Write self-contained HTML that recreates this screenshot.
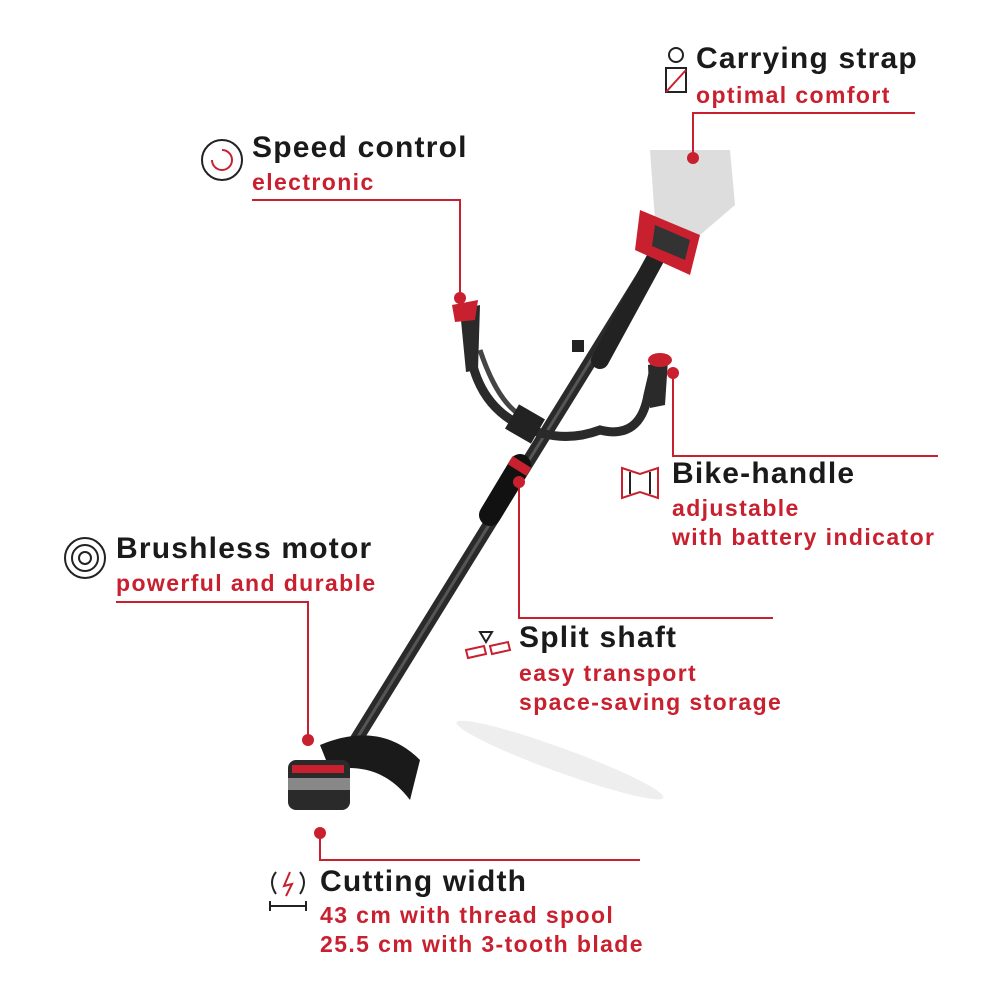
<!DOCTYPE html>
<html><head><meta charset="utf-8"><style>
html,body{margin:0;padding:0;background:#fff;}
#c{position:relative;width:1000px;height:1000px;overflow:hidden;font-family:"Liberation Sans",sans-serif;}
.t{position:absolute;font-weight:bold;color:#1a1a1a;font-size:30px;letter-spacing:1.2px;line-height:34px;white-space:nowrap;}
.s{position:absolute;font-weight:bold;color:#c8202f;font-size:23px;letter-spacing:1.4px;line-height:29px;white-space:nowrap;}
svg{position:absolute;left:0;top:0;}
</style></head><body><div id="c">
<svg width="1000" height="1000" viewBox="0 0 1000 1000">
  <ellipse cx="560" cy="760" rx="110" ry="12" fill="#eee" transform="rotate(20 560 760)"/>
  <line x1="690" y1="200" x2="325" y2="790" stroke="#2a2a2a" stroke-width="13" stroke-linecap="round"/>
  <line x1="690" y1="200" x2="325" y2="790" stroke="#555" stroke-width="3"/>
  <line x1="520" y1="465" x2="490" y2="515" stroke="#111" stroke-width="22" stroke-linecap="round"/>
  <line x1="522" y1="462" x2="517" y2="470" stroke="#c8202f" stroke-width="22"/>
  <line x1="660" y1="250" x2="600" y2="360" stroke="#222" stroke-width="18" stroke-linecap="round"/>
  <path d="M650 150 L730 150 L735 205 L700 235 L655 220 Z" fill="#ddd"/>
  <path d="M640 210 L700 235 L690 275 L635 250 Z" fill="#c8202f"/>
  <path d="M655 225 L690 240 L685 260 L652 246 Z" fill="#333"/>
  <path d="M468 330 Q470 400 520 425 Q560 445 600 430 Q640 440 648 395 L655 365" fill="none" stroke="#2a2a2a" stroke-width="9" stroke-linecap="round"/>
  <path d="M480 350 Q500 410 530 420" fill="none" stroke="#444" stroke-width="5"/>
  <path d="M460 310 L480 305 L478 370 L466 372 Z" fill="#2a2a2a"/>
  <path d="M452 305 L478 300 L475 320 L455 322 Z" fill="#c8202f"/>
  <path d="M648 365 L668 360 L665 405 L650 408 Z" fill="#2a2a2a"/>
  <ellipse cx="660" cy="360" rx="12" ry="7" fill="#c8202f"/>
  <rect x="510" y="410" width="30" height="28" fill="#222" transform="rotate(30 525 424)"/>
  <rect x="572" y="340" width="12" height="12" fill="#222"/>
  <path d="M320 745 Q380 720 420 760 L410 800 Q380 760 330 770 Z" fill="#1a1a1a"/>
  <rect x="288" y="760" width="62" height="50" rx="8" fill="#2a2a2a"/>
  <rect x="288" y="778" width="62" height="12" fill="#888"/>
  <rect x="292" y="765" width="52" height="8" fill="#c8202f"/>
  <g stroke="#c8202f" stroke-width="2" fill="none">
    <polyline points="915,113 693,113 693,158"/>
    <polyline points="252,200 460,200 460,298"/>
    <polyline points="673,373 673,456 938,456"/>
    <polyline points="116,602 308,602 308,740"/>
    <polyline points="519,482 519,618 773,618"/>
    <polyline points="320,833 320,860 640,860"/>
  </g>
  <g fill="#c8202f">
    <circle cx="693" cy="158" r="6"/><circle cx="460" cy="298" r="6"/>
    <circle cx="673" cy="373" r="6"/><circle cx="308" cy="740" r="6"/>
    <circle cx="519" cy="482" r="6"/><circle cx="320" cy="833" r="6"/>
  </g>
  <g stroke="#222" stroke-width="2" fill="none">
    <circle cx="676" cy="55" r="7"/><rect x="666" y="68" width="20" height="24"/>
    <line x1="666" y1="92" x2="686" y2="70" stroke="#c8202f"/>
    <circle cx="222" cy="160" r="20"/>
    <path d="M212 160 A10 10 0 1 0 222 150" stroke="#c8202f"/>
    <circle cx="85" cy="558" r="20"/><circle cx="85" cy="558" r="13"/><circle cx="85" cy="558" r="6"/>
    <path d="M622 468 L640 474 L658 468 L658 498 L640 492 L622 498 Z" stroke="#c8202f"/>
    <path d="M630 472 L630 494 M650 472 L650 494"/>
    <path d="M480 632 L492 632 L486 642 Z"/>
    <path d="M466 650 L484 646 L486 654 L468 658 Z M490 646 L508 642 L510 650 L492 654 Z" stroke="#c8202f"/>
    <path d="M276 872 Q268 882 276 894 M300 872 Q308 882 300 894"/>
    <path d="M290 872 L284 886 L292 884 L286 896" stroke="#c8202f"/>
    <path d="M270 906 L306 906 M270 901 L270 911 M306 901 L306 911"/>
  </g>
</svg>
<div class="t" style="left:696px;top:42px">Carrying strap</div>
<div class="s" style="left:696px;top:81px">optimal comfort</div>
<div class="t" style="left:252px;top:131px">Speed control</div>
<div class="s" style="left:252px;top:168px">electronic</div>
<div class="t" style="left:672px;top:457px">Bike-handle</div>
<div class="s" style="left:672px;top:494px">adjustable<br>with battery indicator</div>
<div class="t" style="left:116px;top:532px">Brushless motor</div>
<div class="s" style="left:116px;top:569px">powerful and durable</div>
<div class="t" style="left:519px;top:621px">Split shaft</div>
<div class="s" style="left:519px;top:659px">easy transport<br>space-saving storage</div>
<div class="t" style="left:320px;top:865px">Cutting width</div>
<div class="s" style="left:320px;top:901px">43 cm with thread spool<br>25.5 cm with 3-tooth blade</div>
</div></body></html>
